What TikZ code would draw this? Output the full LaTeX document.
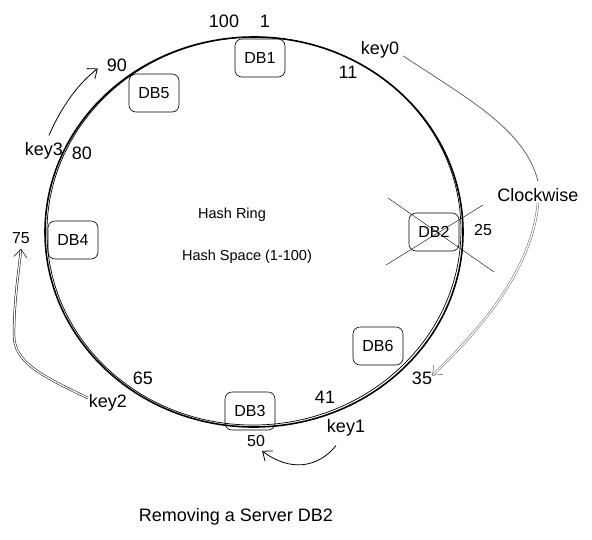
\documentclass[tikz,border=0pt]{standalone}
\usepackage{fontspec}
\setmainfont{Liberation Sans}
\tikzset{font={\fontsize{18pt}{21}\selectfont}}
\usetikzlibrary{
	calc,
	arrows.meta,
	positioning
	}
\definecolor{gris}{HTML}{666666}
\tikzstyle{db-std}=[draw,line width=0.6pt,rounded corners=7pt,minimum width=50pt,minimum height=38pt,inner sep=0pt,font={\fontsize{16pt}{19}\selectfont}]
\tikzstyle{lbl-std}=[inner sep=1pt]
\tikzstyle{lbl-small}=[inner sep=1pt,font={\fontsize{16pt}{19}\selectfont}]
\tikzstyle{txt-ring}=[inner sep=1pt,font={\fontsize{14.5pt}{17}\selectfont}]
\tikzstyle{arr-std}=[-{Straight Barb[length=8pt,width=13pt]},line width=0.8pt]
\tikzstyle{arr-double}=[arr-std,double,double distance=1.3pt,line width=0.5pt]

\begin{document}
\begin{tikzpicture}[x=1pt,y=-1pt]
            \useasboundingbox (0,0) rectangle (592,539);
            % ring
            \draw[line width=1.6pt] (254,232) ellipse [x radius=209, y radius=195];
            \draw[line width=0.7pt, rotate around={2:(254,232)}] (254,231) ellipse [x radius=207, y radius=194];
            %
            \node[db-std] (db1) at (260,58) {DB1};
            \node[db-std] (db5) at (154,93) {DB5};
            \node[db-std] (db4) at (73,240) {DB4};
            \node[db-std] (db2) at (434,232) {DB2};
            \node[db-std] (db6) at (378,346) {DB6};
            \node[db-std] (db3) at (250,411) {DB3};

            \draw ($(db2)+(-46,-34)$) -- ($(db2)+(60,40)$);
            \draw ($(db2)+(-48,33)$) -- ($(db2)+(49,-27)$);

            \node[txt-ring] (ring) at (232,215) {Hash Ring};
            \node[txt-ring] (space) at (247,257) {Hash Space (1-100)};

            \node[lbl-std] (n100) at (224,21) {100};
            \node[lbl-std] (n1) at (265,21) {1};
            \node[lbl-std] (n11) at (348,72) {11};
            \node[lbl-small] (n25) at (483,230) {25};
            \node[lbl-std] (n35) at (422,378) {35};
            \node[lbl-std] (n41) at (325,397) {41};
            \node[lbl-small] (n50) at (256,441) {50};
            \node[lbl-std] (n65) at (143,378) {65};
            \node[lbl-small] (n75) at (21,238) {75};
            \node[lbl-std] (n80) at (82,153) {80};
            \node[lbl-std] (n90) at (117,65) {90};

            \node[lbl-std] (key0) at (380,50) {key0};
            \node[lbl-std] (key1) at (346,428) {key1};
            \node[lbl-std] (key2) at (108,403) {key2};
            \node[lbl-std] (key3) at (44,151) {key3};
            \node[lbl-std] (clockwise) at (538,195) {Clockwise};

            \node[lbl-std] (title) at (236,517) {Removing a Server DB2};
            %
            \draw[arr-std] ([xshift=5pt,yshift=6pt]key3.north) .. controls (62,105) and (80,82) .. ([xshift=-8pt,yshift=4pt]n90.south west);
            \draw[arr-double] ([yshift=5pt]key2.west) .. controls (40,375) and (14,362) .. (14,335) .. controls (14,300) and (19,270) .. ([yshift=-4pt]n75.south);
            \draw[arr-std] ([xshift=-10pt,yshift=-8pt]key1.south) .. controls (318,468) and (290,472) .. ([xshift=-4pt,yshift=-3pt]n50.south east);
            \draw[gris, line width=0.8pt] ([xshift=3pt,yshift=-6pt]key0.east) .. controls (470,100) and (525,130) .. ([yshift=6pt]clockwise.north);
            \draw[arr-double, gris] (clockwise.south) .. controls (532,270) and (480,330) .. ([xshift=-1pt,yshift=-5pt]n35.north east);
        \end{tikzpicture}
\end{document}
